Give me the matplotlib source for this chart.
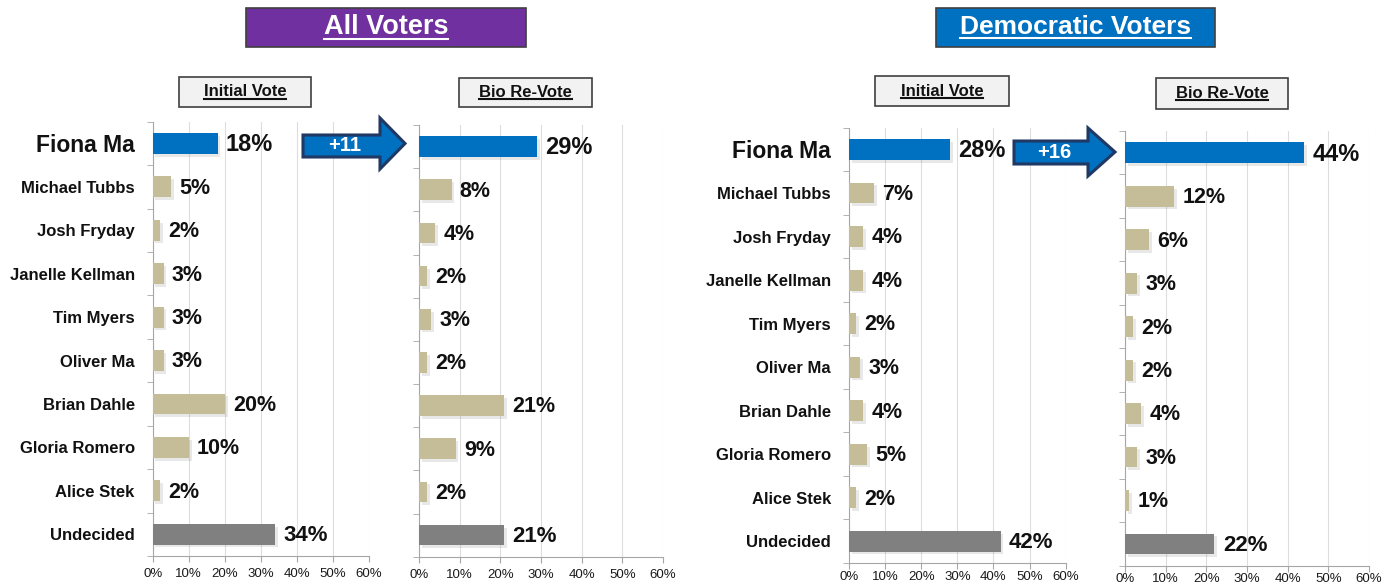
import matplotlib.pyplot as plt
import matplotlib.patheffects as pe
from matplotlib.patches import Rectangle, Polygon
from matplotlib.lines import Line2D

plt.rcParams['font.family'] = ['Liberation Sans', 'DejaVu Sans']

# data
candidates = ['Fiona Ma', 'Michael Tubbs', 'Josh Fryday', 'Janelle Kellman', 'Tim Myers',
              'Oliver Ma', 'Brian Dahle', 'Gloria Romero', 'Alice Stek', 'Undecided']
all_initial = [18, 5, 2, 3, 3, 3, 20, 10, 2, 34]
all_bio = [29, 8, 4, 2, 3, 2, 21, 9, 2, 21]
dem_initial = [28, 7, 4, 4, 2, 3, 4, 5, 2, 42]
dem_bio = [44, 12, 6, 3, 2, 2, 4, 3, 1, 22]
x_ticks = [0, 10, 20, 30, 40, 50, 60]

BLUE = '#0070C0'
TAN = '#C4BD97'
GRAY = '#808080'
W, H = 1393, 588


def fx(x):
    return x / W


def fy(y):
    return 1 - y / H


fig = plt.figure(figsize=(W / 100, H / 100), dpi=100)

# axes boxes in pixels: x at 0%, x at 60%, top, bottom
boxes = [(152.7, 369, 121.7, 556), (419, 663, 125, 556.7),
         (849, 1065.7, 127.7, 563), (1125, 1369, 131, 565.7)]
series = [all_initial, all_bio, dem_initial, dem_bio]
show_names = [True, False, True, False]
tick_pads = [4.5, 4.5, 1.5, 1.2]
shadow = [pe.SimplePatchShadow(offset=(2, -2), alpha=0.15, shadow_rgbFace='#666666'), pe.Normal()]

axes = []
for (x0, x1, top, bot), vals, names, tpad in zip(boxes, series, show_names, tick_pads):
    ax = fig.add_axes([fx(x0), fy(bot), fx(x1 - x0), (bot - top) / H])
    colors = [BLUE] + [TAN] * (len(vals) - 2) + [GRAY]
    ypos = list(range(len(candidates)))
    bars = ax.barh(ypos, vals, height=0.48, color=colors, zorder=3)
    for b in bars:
        b.set_path_effects(shadow)
    for i, v in enumerate(vals):
        size = 17 if i == 0 else (16 if i == len(vals) - 1 else 15.5)
        ax.annotate(f'{v}%', (v, i), xytext=(6, -1), textcoords='offset points',
                    ha='left', va='center', fontsize=size, fontweight='bold', color='#111111')
    ax.set_xlim(0, 60)
    ax.set_ylim(len(candidates) - 0.5, -0.5)
    ax.set_xticks(x_ticks)
    ax.set_xticklabels([f'{t}%' for t in x_ticks], fontsize=9.5, color='#1a1a1a')
    ax.tick_params(axis='x', length=4, color='#A6A6A6', pad=tpad)
    ax.set_yticks(ypos)
    if names:
        ax.set_yticklabels(candidates, fontweight='bold', fontsize=12, color='#111111')
        ax.get_yticklabels()[0].set_fontsize(16.5)
    else:
        ax.set_yticklabels([])
    ax.tick_params(axis='y', length=0, pad=13)
    ax.set_yticks([i - 0.5 for i in range(len(candidates) + 1)], minor=True)
    ax.tick_params(axis='y', which='minor', length=4, color='#A6A6A6')
    ax.grid(axis='x', color='#DDDDDD', lw=0.8, zorder=0)
    for s in ['top', 'right']:
        ax.spines[s].set_visible(False)
    for s in ['left', 'bottom']:
        ax.spines[s].set_color('#A6A6A6')
    axes.append(ax)

# header boxes
headers = [('All Voters', 246, 8, 526, 47, '#7030A0', 'white', 19.5),
           ('Democratic Voters', 936, 8, 1215, 47, BLUE, 'white', 19),
           ('Initial Vote', 179, 77, 311, 107, '#F2F2F2', '#111111', 12),
           ('Bio Re-Vote', 459, 78, 592, 107, '#F2F2F2', '#111111', 12),
           ('Initial Vote', 875, 76, 1009, 106, '#F2F2F2', '#111111', 12),
           ('Bio Re-Vote', 1156, 78, 1288, 109, '#F2F2F2', '#111111', 12)]
texts = []
for label, x0, y0, x1, y1, fc, tc, fs in headers:
    fig.patches.append(Rectangle((fx(x0), fy(y1)), fx(x1 - x0), (y1 - y0) / H,
                                 transform=fig.transFigure, facecolor=fc,
                                 edgecolor='#404040', lw=1.2))
    t = fig.text(fx((x0 + x1) / 2), fy((y0 + y1) / 2), label, ha='center', va='center',
                 fontsize=fs, fontweight='bold', color=tc)
    texts.append((t, tc))

# arrows showing the gain for Fiona Ma
arrows = [(303, 380, 405, 135, 157, 118, 169, all_bio[0] - all_initial[0]),
          (1014, 1088, 1115, 141, 164, 128, 176, dem_bio[0] - dem_initial[0])]
for xt, xh, xtip, b0, b1, h0, h1, gain in arrows:
    ym = (h0 + h1) / 2
    pts = [(xt, b0), (xh, b0), (xh, h0), (xtip, ym), (xh, h1), (xh, b1), (xt, b1)]
    fig.patches.append(Polygon([(fx(a), fy(b)) for a, b in pts], closed=True,
                               transform=fig.transFigure, facecolor=BLUE,
                               edgecolor='#1F3864', lw=2.2, zorder=5))
    fig.text(fx((xt + xh) / 2 + 3), fy((b0 + b1) / 2), f'+{gain}', ha='center', va='center',
             fontsize=14.5, fontweight='bold', color='white', zorder=6)

# underline the header texts
fig.canvas.draw()
renderer = fig.canvas.get_renderer()
for t, tc in texts:
    bb = t.get_window_extent(renderer).transformed(fig.transFigure.inverted())
    yl = bb.y0 + 0.35 * (bb.y1 - bb.y0) * 0.18
    fig.lines.append(Line2D([bb.x0, bb.x1], [yl, yl], transform=fig.transFigure,
                            color=tc, lw=1.5))

fig.savefig('out.png', dpi=100)
